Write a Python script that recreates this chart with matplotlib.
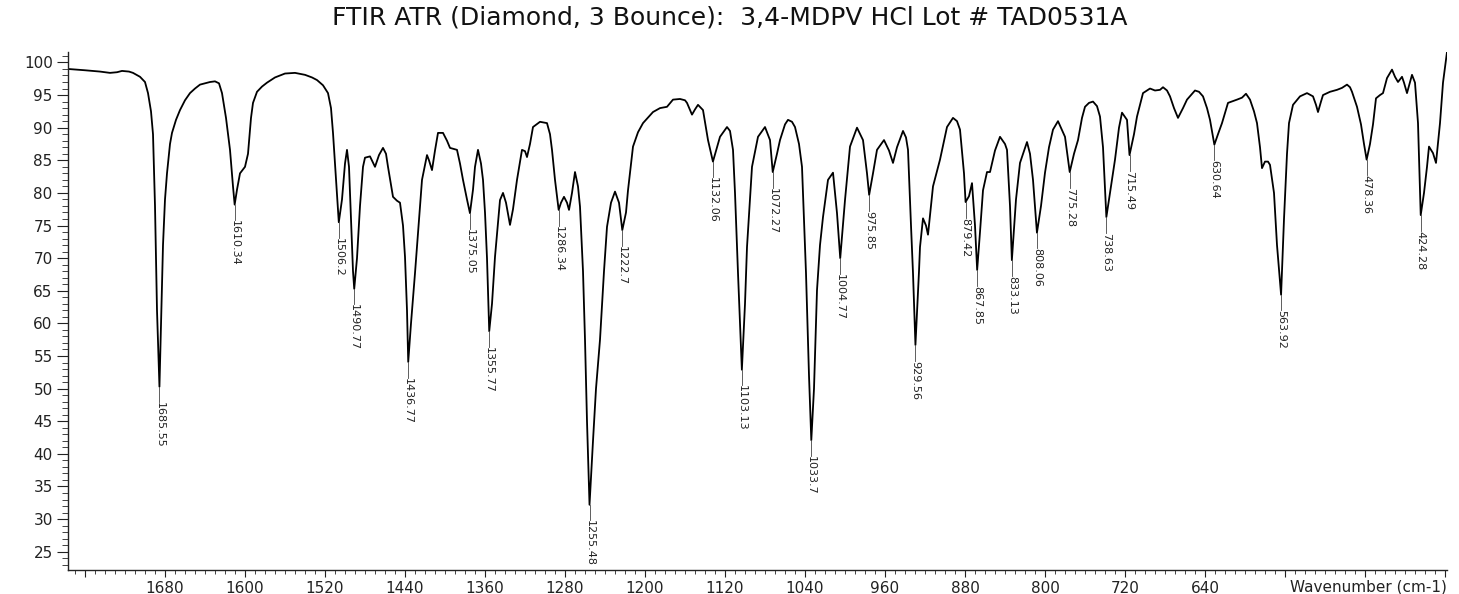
import matplotlib
matplotlib.use("Agg")
import matplotlib.pyplot as plt
from matplotlib.ticker import MultipleLocator, FixedLocator

# ---- spectrum (wavenumber cm-1, %T) ----
wavenumber = [
    1777, 1760, 1745, 1735, 1728, 1723, 1716, 1712, 1705, 1700, 1697, 1694, 1692, 1690, 1688,
    1685.55, 1684, 1682, 1680, 1678, 1675, 1673, 1669, 1665, 1660, 1655, 1650, 1645, 1635, 1630,
    1626, 1623, 1619, 1615, 1612, 1610.34, 1608, 1605, 1600, 1597, 1594, 1592, 1588, 1583, 1578,
    1570, 1560, 1550, 1540, 1533, 1528, 1522, 1517, 1514, 1512, 1509, 1506.2, 1503, 1500, 1498,
    1496, 1494, 1492, 1490.77, 1488, 1485, 1482, 1480, 1475, 1470, 1466, 1462, 1459, 1457, 1452,
    1448, 1445, 1442, 1440, 1438, 1436.77, 1434, 1430, 1426, 1423, 1418, 1416, 1413, 1410, 1407,
    1402, 1398, 1395, 1388, 1385, 1382, 1378, 1375.05, 1372, 1370, 1367, 1364, 1362, 1360, 1358,
    1355.77, 1353, 1350, 1347, 1345, 1342, 1339, 1335, 1332, 1328, 1323, 1320, 1318, 1315, 1312,
    1305, 1298, 1295, 1293, 1290, 1286.34, 1284, 1281, 1278, 1276, 1273, 1270, 1267, 1265, 1262,
    1260, 1258, 1255.48, 1252, 1249, 1245, 1241, 1238, 1234, 1230, 1226, 1222.7, 1219, 1217, 1212,
    1207, 1202, 1192, 1185, 1178, 1172, 1165, 1160, 1158, 1153, 1150, 1147, 1142, 1137, 1132.06,
    1128, 1125, 1118, 1115, 1112, 1110, 1107, 1103.13, 1100, 1098, 1095, 1093, 1087, 1080, 1075,
    1072.27, 1068, 1065, 1060, 1057, 1053, 1050, 1046, 1043, 1039, 1036, 1033.7, 1031, 1028, 1025,
    1022, 1017, 1012, 1008, 1004.77, 1000, 995, 988, 982, 978, 975.85, 972, 968, 961, 956,
    952, 948, 942, 939, 937, 934, 932, 929.56, 926, 925, 922, 919, 917, 912, 905,
    898, 892, 888, 885, 881, 879.42, 876, 873, 870, 867.85, 865, 862, 858, 855, 850,
    845, 840, 838, 835, 833.13, 829, 825, 818, 815, 812, 808.06, 804, 800, 796, 792,
    787, 780, 775.28, 771, 767, 763, 760, 756, 752, 748, 745, 742, 738.63, 735, 730,
    726, 723, 718, 715.49, 711, 708, 702, 695, 690, 685, 682, 678, 675, 671, 667,
    662, 658, 650, 646, 642, 638, 635, 630.64, 627, 623, 617, 608, 603, 599, 595,
    591, 588, 585, 583, 580, 577, 575, 571, 568, 563.92, 561, 558, 556, 552, 545,
    538, 532, 529, 527, 524, 522, 515, 508, 503, 498, 495, 493, 488, 484, 481,
    478.36, 475, 472, 469, 465, 462, 458, 453, 450, 447, 443, 441, 438, 435, 433,
    430, 427, 424.28, 421, 418, 416, 412, 409, 405, 402, 398,
]
transmittance = [
    99.0, 98.8, 98.6, 98.4, 98.5, 98.7, 98.6, 98.4, 97.8, 97.0, 95.3, 92.5, 89.0, 78.0, 62.0,
    50.3, 60.0, 72.0, 79.0, 83.0, 87.5, 89.2, 91.2, 92.7, 94.2, 95.3, 96.0, 96.6, 97.0, 97.1,
    96.8, 95.3, 91.5, 86.6, 81.0, 78.2, 80.5, 83.0, 84.0, 86.0, 91.5, 93.8, 95.5, 96.3, 96.9,
    97.7, 98.3, 98.4, 98.1, 97.7, 97.3, 96.5, 95.3, 93.0, 89.2, 82.0, 75.5, 79.0, 84.5, 86.6,
    84.0, 76.0, 68.0, 65.3, 70.0, 78.0, 84.0, 85.4, 85.6, 84.0, 85.8, 86.9, 86.0, 84.0, 79.4,
    78.8, 78.5, 75.0, 70.2, 62.0, 54.1, 60.0, 67.7, 76.0, 82.0, 85.8, 85.0, 83.5, 86.5, 89.2,
    89.2, 88.0, 86.9, 86.6, 84.5, 82.0, 79.0, 76.9, 80.5, 84.0, 86.6, 84.5, 82.0, 77.0, 70.0,
    58.8, 63.0, 70.2, 75.5, 78.9, 80.0, 78.5, 75.1, 77.5, 82.0, 86.6, 86.4, 85.5, 87.5, 90.1,
    90.9, 90.7, 89.0, 86.6, 82.0, 77.4, 78.5, 79.4, 78.5, 77.4, 80.0, 83.2, 81.0, 77.9, 68.0,
    57.5, 45.0, 32.2, 42.0, 50.0, 57.5, 68.0, 74.8, 78.5, 80.2, 78.5, 74.3, 77.0, 80.4, 87.1,
    89.3, 90.7, 92.4, 93.0, 93.2, 94.3, 94.4, 94.2, 93.8, 92.0, 92.8, 93.5, 92.7, 88.1, 84.8,
    87.0, 88.6, 90.1, 89.5, 86.6, 80.0, 67.7, 52.9, 63.0, 71.7, 79.0, 84.0, 88.6, 90.1, 88.1,
    83.2, 86.0, 88.1, 90.5, 91.2, 90.9, 90.1, 87.5, 84.0, 67.7, 52.0, 42.1, 50.0, 65.1, 72.0,
    76.3, 82.0, 83.1, 76.9, 70.0, 78.9, 87.1, 90.0, 88.1, 83.0, 79.7, 83.0, 86.6, 88.1, 86.5,
    84.6, 87.0, 89.5, 88.5, 86.6, 75.0, 67.7, 56.7, 68.0, 71.7, 76.1, 75.0, 73.6, 81.0, 85.1,
    90.1, 91.5, 91.0, 89.7, 83.0, 78.6, 79.5, 81.5, 75.0, 68.2, 74.0, 80.4, 83.2, 83.2, 86.5,
    88.6, 87.5, 86.6, 78.0, 69.7, 79.0, 84.6, 87.8, 86.0, 82.0, 73.9, 78.0, 83.1, 87.0, 89.7,
    91.0, 88.6, 83.2, 86.0, 88.1, 91.5, 93.2, 93.8, 94.0, 93.3, 91.7, 87.0, 76.3, 80.0, 85.1,
    90.0, 92.3, 91.2, 85.8, 89.0, 91.7, 95.3, 96.0, 95.7, 95.8, 96.2, 95.7, 94.8, 93.0, 91.5,
    93.0, 94.3, 95.7, 95.5, 94.8, 93.0, 91.2, 87.4, 89.0, 90.7, 93.8, 94.3, 94.6, 95.2, 94.3,
    92.5, 90.7, 87.0, 83.8, 84.8, 84.8, 84.3, 80.0, 72.0, 64.4, 76.0, 86.0, 90.7, 93.5, 94.8,
    95.3, 94.8, 93.5, 92.4, 94.0, 95.0, 95.5, 95.8, 96.1, 96.6, 96.2, 95.5, 93.2, 90.5, 87.5,
    85.1, 87.5, 90.5, 94.5, 95.0, 95.3, 97.6, 98.9, 97.8, 97.0, 97.8, 96.9, 95.3, 97.0, 98.1,
    96.9, 90.7, 76.6, 80.0, 84.0, 87.1, 86.1, 84.6, 90.7, 96.9, 101.6,
]

# ---- peak annotations ----
peak_wn = [1685.55, 1610.34, 1506.2, 1490.77, 1436.77, 1375.05, 1355.77, 1286.34, 1255.48,
           1222.7, 1132.06, 1103.13, 1072.27, 1033.7, 1004.77, 975.85, 929.56, 879.42,
           867.85, 833.13, 808.06, 775.28, 738.63, 715.49, 630.64, 563.92, 478.36, 424.28]
peak_T = [50.3, 78.2, 75.5, 65.3, 54.1, 76.9, 58.8, 77.4, 32.2,
          74.3, 84.8, 52.9, 83.2, 42.1, 70.0, 79.7, 56.7, 78.6,
          68.2, 69.7, 73.9, 83.2, 76.3, 85.8, 87.4, 64.4, 85.1, 76.6]
peak_labels = ["1685.55", "1610.34", "1506.2", "1490.77", "1436.77", "1375.05", "1355.77",
               "1286.34", "1255.48", "1222.7", "1132.06", "1103.13", "1072.27", "1033.7",
               "1004.77", "975.85", "929.56", "879.42", "867.85", "833.13", "808.06",
               "775.28", "738.63", "715.49", "630.64", "563.92", "478.36", "424.28"]

x_major = list(range(1760, 399, -80))
x_labels = ["" if v in (1760, 560, 480, 400) else str(v) for v in x_major]
y_major = list(range(25, 101, 5))

title = "FTIR ATR (Diamond, 3 Bounce):  3,4-MDPV HCl Lot # TAD0531A"
x_title = "Wavenumber (cm-1)"

plt.rcParams['font.family'] = ['DejaVu Sans']
W, H = 1459, 594
fig = plt.figure(figsize=(W / 100, H / 100), dpi=100)
ax = fig.add_axes([68 / W, 1 - 570 / H, (1447 - 68) / W, (570 - 52) / H])

ax.plot(wavenumber, transmittance, color='black', lw=1.3)
ax.set_xlim(1777, 398)
ax.set_ylim(22.2, 101.6)

for s in ('top', 'right'):
    ax.spines[s].set_visible(False)
for s in ('left', 'bottom'):
    ax.spines[s].set_linewidth(1.0)
    ax.spines[s].set_color('#222222')

ax.xaxis.set_major_locator(FixedLocator(x_major))
ax.set_xticklabels(x_labels)
ax.xaxis.set_minor_locator(MultipleLocator(10))
ax.yaxis.set_major_locator(FixedLocator(y_major))
ax.yaxis.set_minor_locator(MultipleLocator(1))
ax.tick_params(axis='x', which='major', length=5, width=0.8, labelsize=11, pad=3, colors='#222222')
ax.tick_params(axis='x', which='minor', length=3, width=0.6, colors='#222222')
ax.tick_params(axis='y', which='major', length=8, width=0.8, labelsize=11, pad=3, colors='#222222')
ax.tick_params(axis='y', which='minor', length=4, width=0.6, colors='#222222')

ax.annotate(x_title, xy=(1.0, 0.0), xycoords='axes fraction', xytext=(0, -12.5),
            textcoords='offset points', ha='right', va='center', fontsize=11, color='#222222')

gap = 2.4
for wnv, tv, lab in zip(peak_wn, peak_T, peak_labels):
    ax.plot([wnv, wnv], [tv, tv - gap], color='#444444', lw=0.6)
    ax.text(wnv, tv - gap, lab, rotation=270, ha='center', va='top', fontsize=8,
            color='#222222')

fig.text(0.5, 1 - 18 / H, title, ha='center', va='center', fontsize=18, color='#111111')

fig.savefig('out.png', dpi=100)
